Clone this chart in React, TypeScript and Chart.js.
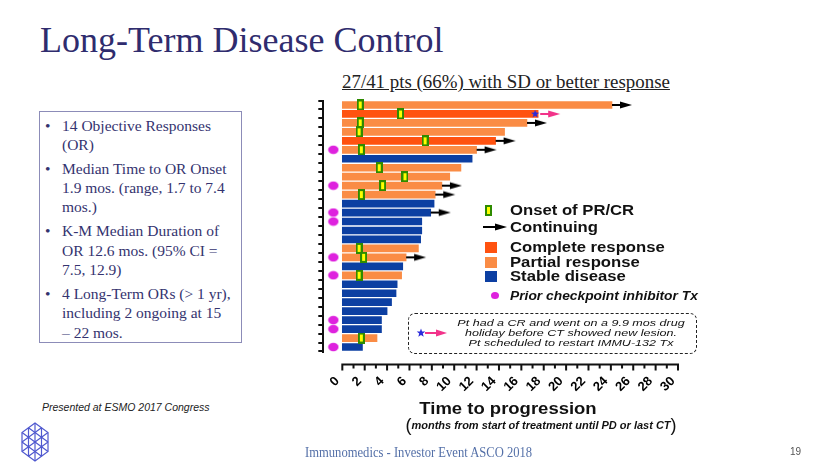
import React, { useEffect, useRef } from 'react';
import { Chart, registerables } from 'chart.js';

Chart.register(...registerables);

// ---------- data ----------
const patients = ['P1','P2','P3','P4','P5','P6','P7','P8','P9','P10','P11','P12','P13','P14','P15','P16','P17','P18','P19','P20','P21','P22','P23','P24','P25','P26','P27','P28'];
const responses = ['PR','CR','PR','PR','CR','PR','SD','PR','PR','PR','PR','SD','SD','SD','SD','SD','PR','PR','SD','PR','SD','SD','SD','SD','SD','SD','PR','SD'];
const monthsToProgression = [24.1,17.5,16.5,14.5,13.7,12.0,11.6,10.6,9.6,8.9,8.3,8.2,7.9,7.1,7.1,7.0,6.8,5.7,5.4,5.3,4.9,4.8,4.4,4.0,3.5,3.5,3.1,1.8];
const onsetPatients = ['P1','P2','P3','P4','P5','P6','P8','P9','P10','P11','P17','P18','P20','P27'];
const onsetMonths = [1.6,5.2,1.6,1.5,7.4,1.7,3.3,5.6,3.6,1.7,1.5,1.9,1.5,1.7];
const continuingPatients = ['P1','P3','P5','P6','P10','P11','P13','P18'];
const drugHolidayPatients = ['P2'];
const priorCheckpointPatients = ['P6','P10','P13','P14','P18','P20','P25','P26','P28'];
const xTickLabels = [0,2,4,6,8,10,12,14,16,18,20,22,24,26,28,30];
const X_MIN = -1.7;
const X_MAX = 30;
const PRIOR_CPI_X = -0.8;

const COLORS: Record<string, string> = { CR: '#FF5210', PR: '#FA8C45', SD: '#0C3FA2' };
const MAGENTA = '#DE22DE';
const PINK = '#F2338A';
const STAR_BLUE = '#2B2BDB';
const NAVY = '#2F2C6E';

function makeCanvas(w: number, h: number, draw: (g: CanvasRenderingContext2D) => void) {
  const c = document.createElement('canvas');
  c.width = w; c.height = h;
  const g = c.getContext('2d')!;
  draw(g);
  return c;
}

function starPath(g: CanvasRenderingContext2D, cx: number, cy: number, ro: number, ri: number) {
  g.beginPath();
  for (let i = 0; i < 10; i++) {
    const r = i % 2 === 0 ? ro : ri;
    const a = -Math.PI / 2 + (i * Math.PI) / 5;
    const px = cx + r * Math.cos(a), py = cy + r * Math.sin(a);
    if (i === 0) g.moveTo(px, py); else g.lineTo(px, py);
  }
  g.closePath();
}

const xAxisLinePlugin = {
  id: 'xAxisLine',
  afterDraw(chart: any) {
    const { ctx, chartArea, scales } = chart;
    const x = scales.x;
    const ticks = x.ticks.filter((t: any) => t.value >= 0);
    const y0 = chartArea.bottom + 13;
    ctx.save();
    ctx.strokeStyle = '#111';
    ctx.lineWidth = 2;
    ctx.beginPath();
    ctx.moveTo(x.getPixelForValue(ticks[0].value) - 1, y0);
    ctx.lineTo(x.getPixelForValue(ticks[ticks.length - 1].value) + 1, y0);
    for (const t of ticks) {
      const px = x.getPixelForValue(t.value);
      const major = xTickLabels.includes(t.value);
      ctx.moveTo(px, y0);
      ctx.lineTo(px, y0 + (major ? 6 : 4));
    }
    ctx.stroke();
    ctx.restore();
  },
};

function SwimmerChart() {
  const ref = useRef<HTMLCanvasElement | null>(null);
  useEffect(() => {
    if (!ref.current) return;
    const onsetImg = makeCanvas(7, 11, g => {
      g.fillStyle = '#2E8B00'; g.fillRect(0, 0, 7, 11);
      g.fillStyle = '#FFFF00'; g.fillRect(2, 2, 3, 7);
    });
    const arrowImg = makeCanvas(46, 10, g => {
      g.strokeStyle = '#000'; g.lineWidth = 2;
      g.beginPath(); g.moveTo(23, 5); g.lineTo(32, 5); g.stroke();
      g.fillStyle = '#000';
      g.beginPath(); g.moveTo(31, 1.5); g.lineTo(43, 5); g.lineTo(31, 8.5); g.closePath(); g.fill();
    });
    const holidayImg = makeCanvas(50, 12, g => {
      g.fillStyle = STAR_BLUE; starPath(g, 22, 6, 4.2, 1.8); g.fill();
      g.strokeStyle = PINK; g.lineWidth = 2;
      g.beginPath(); g.moveTo(27, 6); g.lineTo(36, 6); g.stroke();
      g.fillStyle = PINK;
      g.beginPath(); g.moveTo(35, 2.5); g.lineTo(47, 6); g.lineTo(35, 9.5); g.closePath(); g.fill();
    });
    const dotImg = makeCanvas(12, 10, g => {
      g.fillStyle = MAGENTA;
      g.beginPath(); g.ellipse(6, 5, 5.2, 4.2, 0, 0, Math.PI * 2); g.fill();
    });

    const chart = new Chart(ref.current, {
      type: 'bar',
      data: {
        labels: patients,
        datasets: [
          {
            type: 'scatter', label: 'Onset of PR/CR',
            data: onsetPatients.map((p, i) => ({ x: onsetMonths[i], y: p })),
            pointStyle: onsetImg as any, pointRadius: 5, order: 1,
          } as any,
          {
            type: 'scatter', label: 'Continuing',
            data: continuingPatients.map(p => ({ x: monthsToProgression[patients.indexOf(p)], y: p })),
            pointStyle: arrowImg as any, pointRadius: 5, order: 2,
          } as any,
          {
            type: 'scatter', label: 'Drug holiday',
            data: drugHolidayPatients.map(p => ({ x: monthsToProgression[patients.indexOf(p)], y: p })),
            pointStyle: holidayImg as any, pointRadius: 5, order: 2,
          } as any,
          {
            type: 'scatter', label: 'Prior checkpoint inhibitor Tx',
            data: priorCheckpointPatients.map(p => ({ x: PRIOR_CPI_X, y: p })),
            pointStyle: dotImg as any, pointRadius: 5, order: 2,
          } as any,
          {
            type: 'bar', label: 'Time to progression',
            data: monthsToProgression,
            backgroundColor: responses.map(r => COLORS[r]),
            borderWidth: 0, barThickness: 7, order: 10,
          } as any,
        ],
      },
      options: {
        indexAxis: 'y',
        responsive: false,
        animation: false,
        events: [],
        layout: { padding: { left: 15.3, right: 22, top: 10.5, bottom: 8.5 } },
        plugins: { legend: { display: false }, tooltip: { enabled: false } },
        scales: {
          x: {
            type: 'linear', min: X_MIN, max: X_MAX,
            afterFit: (s: any) => { s.height = 40; s.paddingLeft = 0; s.paddingRight = 0; },
            grid: { display: false, drawTicks: false },
            border: { display: false },
            ticks: {
              stepSize: 1, autoSkip: false, maxRotation: 45, minRotation: 45,
              padding: 22, labelOffset: -5, color: '#000',
              font: { family: '"Liberation Sans", Arial, sans-serif', weight: 'bold', size: 13 },
              callback: (v: any) => (xTickLabels.includes(Number(v)) ? String(v) : ''),
            },
          },
          y: {
            type: 'category', labels: patients, offset: true,
            afterFit: (s: any) => { s.width = 8; },
            grid: { offset: true, display: true, drawOnChartArea: false, drawTicks: true, tickLength: 5, color: '#111', lineWidth: 2 },
            border: { display: true, color: '#111', width: 2 },
            ticks: { display: false },
          },
        },
      } as any,
      plugins: [xAxisLinePlugin],
    });
    return () => chart.destroy();
  }, []);
  return (
    <canvas ref={ref} width={400} height={310}
      style={{ position: 'absolute', left: 300, top: 90, width: 400, height: 310 }} />
  );
}

function Txt({ x, y, sx = 1, anchor = 'left', style, children }: any) {
  return (
    <div style={{
      position: 'absolute', left: x, top: y, whiteSpace: 'nowrap', lineHeight: 1,
      transform: `translate(${anchor === 'center' ? '-50%' : '0'}, -50%) scaleX(${sx})`,
      transformOrigin: anchor === 'center' ? 'center center' : 'left center',
      ...style,
    }}>{children}</div>
  );
}

const SANS = '"Liberation Sans", Arial, sans-serif';
const SERIF = '"Liberation Serif", "Times New Roman", serif';

const bullets = [
  ['14 Objective Responses', '(OR)'],
  ['Median Time to OR Onset', '1.9 mos. (range, 1.7 to 7.4', 'mos.)'],
  ['K-M Median Duration of', 'OR 12.6 mos. (95% CI =', '7.5, 12.9)'],
  ['4 Long-Term ORs (> 1 yr),', 'including 2 ongoing at 15', '– 22 mos.'],
];

function Logo() {
  const c = '#4F58CF';
  const lines: string[] = [];
  const cx = 14, cy = 20, w = 13, h = 19;
  const pts = [
    [cx, cy - h], [cx + w, cy - h / 2], [cx + w, cy + h / 2], [cx, cy + h], [cx - w, cy + h / 2], [cx - w, cy - h / 2],
  ];
  lines.push(pts.map((p, i) => `${i ? 'L' : 'M'}${p[0]},${p[1]}`).join(' ') + ' Z');
  for (let i = 0; i < 3; i++) {
    const a = pts[i], b = pts[i + 3];
    lines.push(`M${a[0]},${a[1]} L${b[0]},${b[1]}`);
  }
  const inner = pts.map(p => [cx + (p[0] - cx) / 2, cy + (p[1] - cy) / 2]);
  lines.push(inner.map((p, i) => `${i ? 'L' : 'M'}${p[0]},${p[1]}`).join(' ') + ' Z');
  for (let i = 0; i < 6; i++) {
    const a = pts[i], b = pts[(i + 1) % 6];
    const m = [(a[0] + b[0]) / 2, (a[1] + b[1]) / 2];
    lines.push(`M${m[0]},${m[1]} L${inner[i][0]},${inner[i][1]} M${m[0]},${m[1]} L${inner[(i + 1) % 6][0]},${inner[(i + 1) % 6][1]}`);
  }
  return (
    <svg width={30} height={42} style={{ position: 'absolute', left: 21, top: 422 }}>
      {lines.map((d, i) => <path key={i} d={d} fill="none" stroke={c} strokeWidth={1.2} />)}
    </svg>
  );
}

const legendText = { fontSize: 14.5, fontWeight: 'bold', color: '#111' };
const noteText = { fontSize: 9.5, fontStyle: 'italic', color: '#111' };

export default function App() {
  return (
    <div style={{ position: 'absolute', left: 0, top: 0, width: 830, height: 467, background: '#fff', overflow: 'hidden', fontFamily: SANS }}>
      {/* Title */}
      <div style={{ position: 'absolute', left: 40, top: 20, fontFamily: SERIF, fontSize: 36, lineHeight: '40px', color: NAVY, whiteSpace: 'nowrap' }}>
        Long-Term Disease Control
      </div>
      {/* Subtitle */}
      <div style={{ position: 'absolute', left: 342, top: 71, fontFamily: SERIF, fontSize: 18.9, lineHeight: '21px', color: '#222', textDecoration: 'underline', whiteSpace: 'nowrap' }}>
        27/41 pts (66%) with SD or better response
      </div>

      {/* Left text box */}
      <div style={{ position: 'absolute', left: 39, top: 111, width: 201, height: 230, border: '1px solid #8C8CB8' }}>
        <div style={{ position: 'absolute', left: 0, top: 3.5, fontFamily: SERIF, fontSize: 15.5, lineHeight: '19.3px', color: '#34336F' }}>
          {bullets.map((b, i) => (
            <div key={i} style={{ position: 'relative', paddingLeft: 22, marginBottom: 4.7, whiteSpace: 'nowrap' }}>
              <span style={{ position: 'absolute', left: 5, top: 0 }}>•</span>
              {b.map((l, j) => <div key={j}>{l}</div>)}
            </div>
          ))}
        </div>
      </div>

      <SwimmerChart />

      {/* Legend */}
      <div style={{ position: 'absolute', left: 485, top: 205, width: 7, height: 11, boxSizing: 'border-box', border: '2px solid #2E8B00', background: '#FFFF00' }} />
      <Txt x={510} y={210} sx={1.15} style={legendText}>Onset of PR/CR</Txt>
      <svg width={26} height={10} style={{ position: 'absolute', left: 483, top: 222 }}>
        <line x1={0} y1={5} x2={13} y2={5} stroke="#000" strokeWidth={2} />
        <polygon points="12,1.5 24,5 12,8.5" fill="#000" />
      </svg>
      <Txt x={510} y={227} sx={1.15} style={legendText}>Continuing</Txt>
      <div style={{ position: 'absolute', left: 485, top: 242, width: 12, height: 11, background: COLORS.CR }} />
      <Txt x={510} y={247} sx={1.15} style={legendText}>Complete response</Txt>
      <div style={{ position: 'absolute', left: 485, top: 257, width: 12, height: 11, background: COLORS.PR }} />
      <Txt x={510} y={262} sx={1.15} style={legendText}>Partial response</Txt>
      <div style={{ position: 'absolute', left: 485, top: 271, width: 12, height: 11, background: COLORS.SD }} />
      <Txt x={510} y={276} sx={1.15} style={legendText}>Stable disease</Txt>
      <div style={{ position: 'absolute', left: 491, top: 292, width: 8, height: 7, borderRadius: '50%', background: MAGENTA }} />
      <Txt x={510} y={296} sx={1.15} style={{ fontSize: 12, fontWeight: 'bold', fontStyle: 'italic', color: '#111' }}>Prior checkpoint inhibitor Tx</Txt>

      {/* Annotation box */}
      <div style={{ position: 'absolute', left: 408, top: 313, width: 289, height: 41, boxSizing: 'border-box', border: '1.6px dashed #222', borderRadius: 7 }} />
      <svg width={34} height={12} style={{ position: 'absolute', left: 415, top: 327 }}>
        <polygon points="6,1.5 7.1,4.5 10.3,4.6 7.8,6.6 8.7,9.7 6,7.9 3.3,9.7 4.2,6.6 1.7,4.6 4.9,4.5" fill={STAR_BLUE} />
        <line x1={10} y1={6} x2={23} y2={6} stroke={PINK} strokeWidth={2} />
        <polygon points="21,2.5 32,6 21,9.5" fill={PINK} />
      </svg>
      <Txt x={571} y={322.5} sx={1.32} anchor="center" style={noteText}>Pt had a CR and went on a 9.9 mos drug</Txt>
      <Txt x={571} y={332.5} sx={1.32} anchor="center" style={noteText}>holiday before CT showed new lesion.</Txt>
      <Txt x={571} y={342.5} sx={1.32} anchor="center" style={noteText}>Pt scheduled to restart IMMU-132 Tx</Txt>

      {/* Axis titles */}
      <Txt x={508} y={408} sx={1.12} anchor="center" style={{ fontSize: 16.5, fontWeight: 'bold', color: '#111' }}>Time to progression</Txt>
      <Txt x={541} y={425} anchor="center" style={{ fontSize: 11, fontWeight: 'bold', fontStyle: 'italic', color: '#111' }}>
        <span style={{ fontSize: 18, fontWeight: 'normal', fontStyle: 'normal', verticalAlign: '-2px' }}>(</span>
        months from start of treatment until PD or last CT
        <span style={{ fontSize: 18, fontWeight: 'normal', fontStyle: 'normal', verticalAlign: '-2px' }}>)</span>
      </Txt>

      {/* Footer */}
      <Txt x={42} y={407} style={{ fontSize: 10.5, fontStyle: 'italic', color: '#222' }}>Presented at ESMO 2017 Congress</Txt>
      <Logo />
      <Txt x={305} y={452} sx={0.84} style={{ fontFamily: SERIF, fontSize: 15, color: '#5470A8' }}>Immunomedics - Investor Event ASCO 2018</Txt>
      <Txt x={790} y={452} style={{ fontSize: 10, color: '#555' }}>19</Txt>
    </div>
  );
}
